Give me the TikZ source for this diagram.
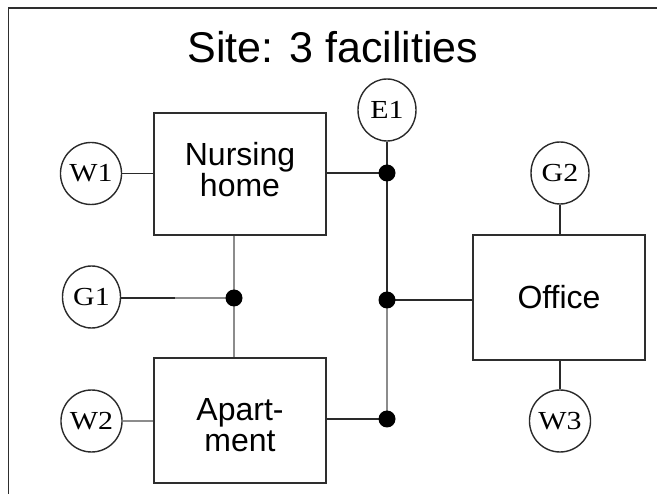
\documentclass[tikz,border=0pt]{standalone}
\usepackage{fontspec}
\setmainfont{Liberation Sans}
\newfontfamily\serifl{Liberation Serif}
\usetikzlibrary{shapes.geometric}
\definecolor{boxc}{HTML}{2E2E2E}
\definecolor{dark}{HTML}{2A2A2A}
\definecolor{grayl}{HTML}{8C8C8C}
\tikzset{
  facility/.style={draw=boxc, line width=1.6pt, rectangle, minimum width=172pt, inner sep=0pt, align=center, font=\fontsize{32}{31}\selectfont},
  meter/.style={draw=dark, line width=1.4pt, ellipse, minimum width=58pt, minimum height=62pt, inner sep=0pt, font=\serifl\fontsize{26}{28}\selectfont},
  junction/.style={circle, fill=black, minimum size=17pt, inner sep=0pt},
  darkline/.style={draw=dark, line width=1.6pt},
  grayline/.style={draw=grayl, line width=2pt},
}
\newcommand{\wlab}[1]{\scalebox{1.15}[1]{#1}}
\begin{document}
\begin{tikzpicture}[x=1pt, y=-1pt]
\useasboundingbox (0,0) rectangle (657,494);
\draw[boxc, line width=1.8pt] (657,8) -- (8.5,8) -- (8.5,494);
\node[anchor=base, font=\fontsize{43}{45}\selectfont] (title) at (333,63) {Site: 3 facilities};
% facilities
\node[facility, minimum height=122pt, text height=54pt, text depth=8pt] (nh) at (240,174) {Nursing\\home};
\node[facility, minimum height=125pt, text height=63pt, text depth=0pt] (ap) at (240,420.5) {Apart-\\ment};
\node[facility, minimum height=125pt] (of) at (559,297.5) {Office};
% meters
\node[meter] (w1) at (91,173.5) {\wlab{W1}};
\node[meter] (g1) at (91.5,297) {\wlab{G1}};
\node[meter] (w2) at (91.5,421) {\wlab{W2}};
\node[meter] (e1) at (387,110) {\wlab{E1}};
\node[meter] (g2) at (560,173) {\wlab{G2}};
\node[meter] (w3) at (560,421) {\wlab{W3}};
% junctions
\coordinate (d1) at (387,173);
\coordinate (d2) at (387,300);
\coordinate (d3) at (387,419);
\coordinate (dl) at (234,298);
\coordinate (gm) at (175,298);
% connectors
\draw[darkline] (w1.east) -- (w1.east -| nh.west);
\draw[darkline] (nh.east |- d1) -- (d1);
\draw[darkline] (e1.south) -- (d1);
\draw[darkline] (d1) -- (d2);
\draw[grayline] (d2) -- (d3);
\draw[darkline] (d2) -- (d2 -| of.west);
\draw[darkline] (ap.east |- d3) -- (d3);
\draw[grayline] (dl |- nh.south) -- (dl);
\draw[grayline] (dl) -- (dl |- ap.north);
\draw[darkline] (g1.east |- gm) -- (gm);
\draw[grayline] (gm) -- (dl);
\draw[grayline] (w2.east) -- (w2.east -| ap.west);
\draw[darkline] (g2.south) -- (g2.south |- of.north);
\draw[darkline] (w3.north) -- (w3.north |- of.south);
\node[junction] (j1) at (d1) {};
\node[junction] (j2) at (d2) {};
\node[junction] (j3) at (d3) {};
\node[junction] (jl) at (dl) {};
\end{tikzpicture}
\end{document}
